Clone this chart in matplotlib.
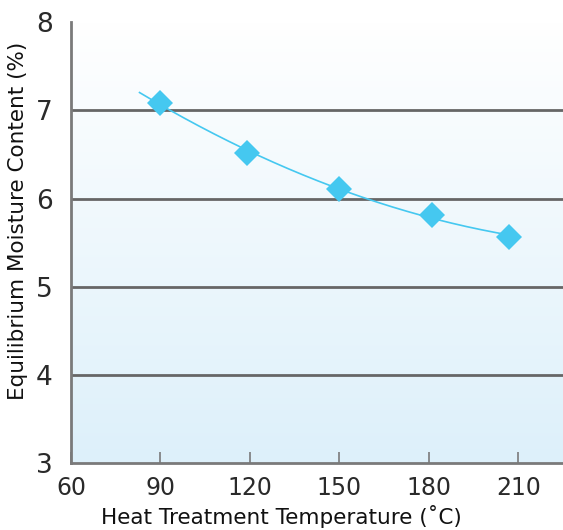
import numpy as np
import matplotlib
matplotlib.use('Agg')
import matplotlib.pyplot as plt
from matplotlib.colors import LinearSegmentedColormap

# dados
temperatura = [90, 119, 150, 181, 207]
umidade = [7.08, 6.52, 6.11, 5.81, 5.57]
xticks = [60, 90, 120, 150, 180, 210]
yticks = [3, 4, 5, 6, 7, 8]
grade_y = [4, 5, 6, 7]

cor = '#45C8F0'
cinza = '#7a7a7a'

fig = plt.figure(figsize=(5.63, 5.30), dpi=100)
ax = fig.add_axes([0.126, 0.126, 0.874, 0.832])
ax.set_xlim(60, 225)
ax.set_ylim(3, 8)

# fundo em degradê
cmap = LinearSegmentedColormap.from_list('fundo', ['#DDF0FA', '#FFFFFF'])
grad = np.linspace(0, 1, 256).reshape(-1, 1)
ax.imshow(grad, cmap=cmap, aspect='auto', origin='lower',
          extent=[60, 225, 3, 8], zorder=0)

for y in grade_y:
    ax.axhline(y, color='#666666', lw=2.0, zorder=1)

# linha de tendência (ajuste quadrático)
coef = np.polyfit(temperatura, umidade, 2)
xs = np.linspace(83, temperatura[-1], 200)
ax.plot(xs, np.polyval(coef, xs), color=cor, lw=1.2, zorder=2)
ax.plot(temperatura, umidade, linestyle='none', marker='D', markersize=13,
        markeredgewidth=0, color=cor, zorder=3)

for s in ['top', 'right']:
    ax.spines[s].set_visible(False)
for s in ['left', 'bottom']:
    ax.spines[s].set_color(cinza)
    ax.spines[s].set_linewidth(2)

ax.set_xticks(xticks)
ax.set_yticks(yticks)
ax.tick_params(axis='x', direction='in', length=8, width=1.2, color=cinza,
               labelsize=17, pad=9, labelcolor='#2a2a2a')
ax.tick_params(axis='y', length=0, labelsize=19, pad=13, labelcolor='#2a2a2a')

ax.set_xlabel('Heat Treatment Temperature (˚C)', fontsize=15.5, color='#111111')
ax.set_ylabel('Equilibrium Moisture Content (%)', fontsize=15.5, color='#111111')
ax.xaxis.set_label_coords(0.427, -0.095)
ax.yaxis.set_label_coords(-0.087, 0.55)

fig.savefig('out.png', dpi=100)
